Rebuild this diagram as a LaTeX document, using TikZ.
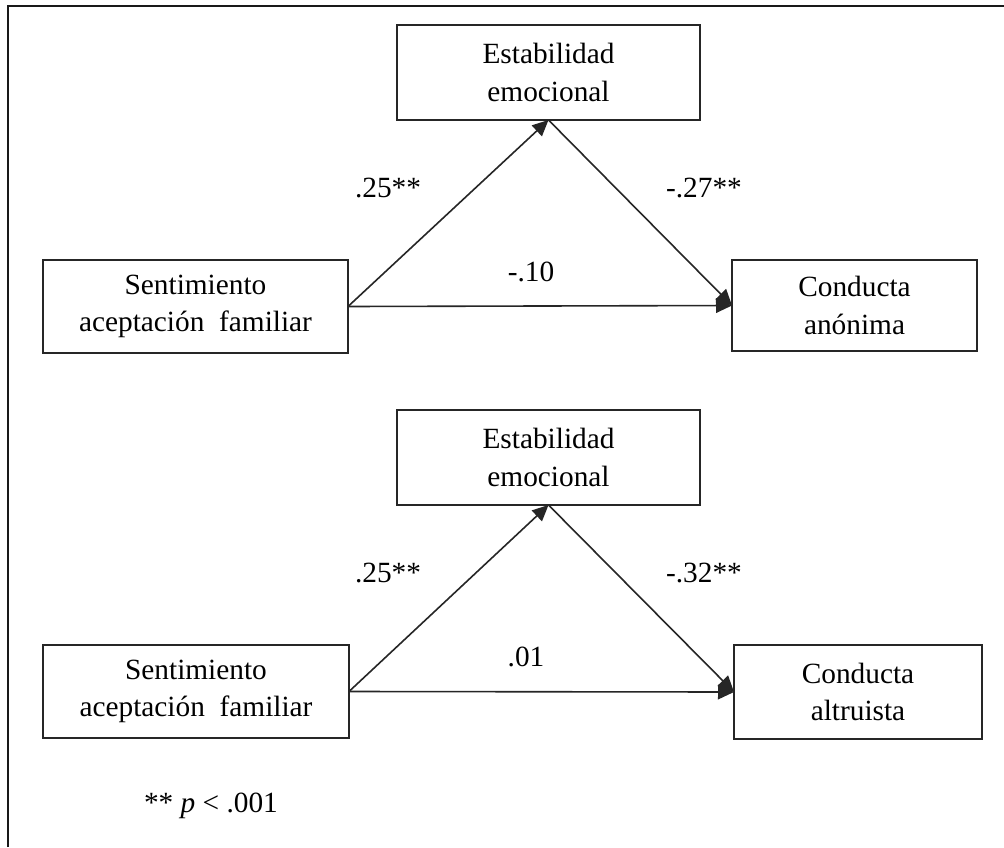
\documentclass[tikz,border=0pt]{standalone}
\usepackage{fontspec}
\setmainfont{Liberation Serif}
\usetikzlibrary{arrows.meta}
\begin{document}
\begin{tikzpicture}[x=0.75pt,y=-0.75pt,
  box/.style={draw=black!85,line width=1.5pt,inner sep=0pt,outer sep=0pt,align=center,
    font=\fontsize{22pt}{28pt}\selectfont},
  arr/.style={line width=1.2pt,draw=black!85,-{Triangle[length=12pt,width=11pt]}},
  lbl/.style={font=\fontsize{22pt}{28pt}\selectfont,inner sep=0pt}]
\useasboundingbox (0,0) rectangle (1004,847);
\fill[white] (0,0) rectangle (1004,847);
% frame
\draw[line width=1.8pt,black!90] (8,847) -- (8,6) -- (1004,6);
% --- upper model
\node[box,minimum width=227.25pt,minimum height=71.25pt] (T1) at (548.5,72.5) {Estabilidad\\emocional};
\node[box,minimum width=228.75pt,minimum height=69.75pt] (L1) at (195.5,306.5) {Sentimiento\\aceptación\ \ familiar};
\node[box,minimum width=183.75pt,minimum height=68.25pt] (R1) at (854.5,305.5) {Conducta\\anónima};
\draw[arr] (L1.east) -- (T1.south);
\draw[arr] (T1.south) -- (R1.west);
\draw[arr] (L1.east) -- (R1.west);
\node[lbl] (a1) at (388,188) {.25**};
\node[lbl] (b1) at (704,188) {-.27**};
\node[lbl] (c1) at (531,272) {-.10};
% --- lower model
\node[box,minimum width=227.25pt,minimum height=71.25pt] (T2) at (548.5,457.5) {Estabilidad\\emocional};
\node[box,minimum width=229.5pt,minimum height=69.75pt] (L2) at (196,691.5) {Sentimiento\\aceptación\ \ familiar};
\node[box,minimum width=186pt,minimum height=70.5pt] (R2) at (858,692) {Conducta\\altruista};
\draw[arr] (L2.east) -- (T2.south);
\draw[arr] (T2.south) -- (R2.west);
\draw[arr] (L2.east) -- (R2.west);
\node[lbl] (a2) at (388,573) {.25**};
\node[lbl] (b2) at (704,573) {-.32**};
\node[lbl] (c2) at (526,657) {.01};
% note
\node[lbl] (note) at (211,806) {** \textit{p} < .001};
\end{tikzpicture}
\end{document}
